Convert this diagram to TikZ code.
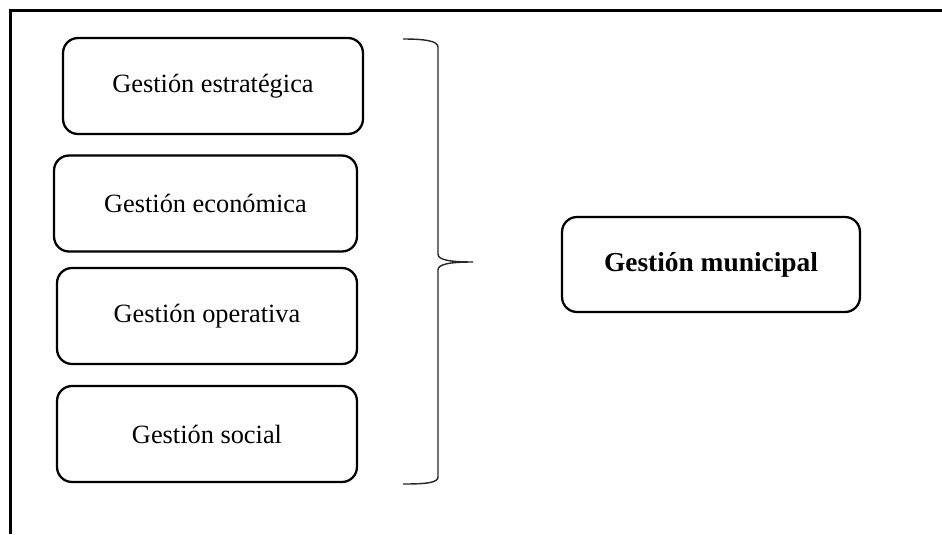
\documentclass[tikz,border=0pt]{standalone}
\usepackage{fontspec}
\setmainfont{Liberation Serif}
\usetikzlibrary{positioning}

\begin{document}
\begin{tikzpicture}[x=0.02cm, y=-0.02cm]
      \tikzset{ gbox/.style ={draw=black, line width=1.3pt, rounded corners=0.3cm, minimum width=6cm, minimum height=1.92cm, text=black, font=\fontsize{15}{18}\selectfont} }
      \tikzset{ gmain/.style={gbox, font=\fontsize{15.6}{18}\selectfont\bfseries} }
      \tikzset{ frame/.style={draw=black, line width=1.6pt} }
      \tikzset{ brc/.style  ={draw=black!85, line width=0.8pt} }

      \useasboundingbox (0,0) rectangle (942,534);
      \draw[frame] (10.5,534) -- (10.5,10.5) -- (942,10.5);

      \node[gbox] (g_estr) at (213.0, 86.0) {Gestión estratégica};
      \node[gbox, minimum width=6.06cm] (g_econ) at (205.5,203.5) {Gestión económica};
      \node[gbox] (g_oper) at (207.0,316.0) {Gestión operativa};
      \node[gbox] (g_soc)  at (207.0,434.0) {Gestión social};

      \node[gmain, minimum width=5.96cm, minimum height=1.9cm] (g_mun) at (711.0,264.5) {Gestión municipal};

      % llave
      \draw[brc] (403,39) .. controls (425,39) and (438,41) .. (438,47)
                 -- (438,254) .. controls (438,260) and (450,262) .. (473,262)
                 .. controls (450,262) and (438,264) .. (438,270)
                 -- (438,477) .. controls (438,483) and (425,484) .. (403,484);
\end{tikzpicture}
\end{document}
